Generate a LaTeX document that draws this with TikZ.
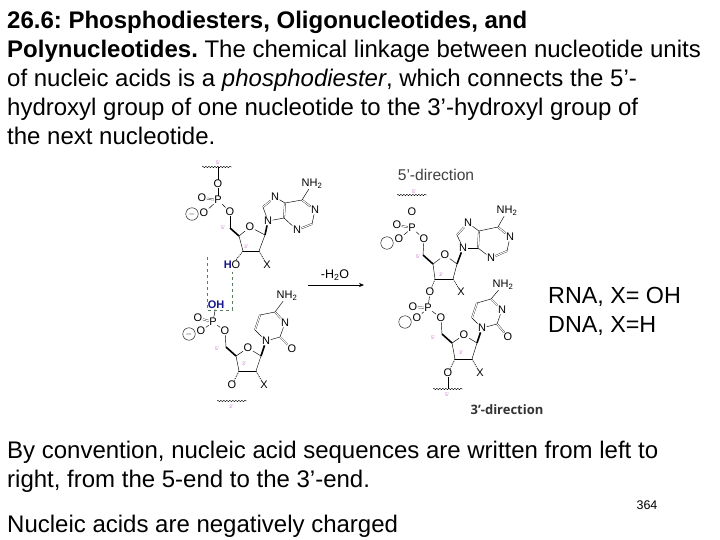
\documentclass[tikz,border=0pt]{standalone}
\usepackage{fontspec}
\setmainfont{Liberation Sans}
\newfontfamily\dirfont{Open Sans}
\usetikzlibrary{decorations.pathmorphing,arrows.meta}
\definecolor{tagpink}{RGB}{200,110,200}
\definecolor{ohblue}{RGB}{20,20,140}
\definecolor{boxgreen}{RGB}{90,125,100}
\frenchspacing
\begin{document}
\begin{tikzpicture}[x=1pt,y=-1pt,
		body/.style={anchor=north west,align=left,inner sep=0pt,font=\fontsize{24}{29}\selectfont},
		atom/.style={inner sep=0.4pt,font=\fontsize{11}{11}\selectfont},
		tag/.style={inner sep=0pt,text=tagpink,font=\fontsize{5}{5}\selectfont},
		ion/.style={circle,draw,thin,minimum size=12.5pt,inner sep=0pt,font=\fontsize{8}{8}\selectfont},
		bond/.style={draw,line width=0.45pt},
		dbl/.style={draw,double,line width=0.3pt,double distance=1.1pt},
		wedge/.style={draw,line width=1.6pt},
		hash/.style={draw,line width=0.7pt,dash pattern=on 1pt off 1pt},
		wave/.style={draw,line width=0.4pt,decorate,decoration={snake,amplitude=0.7pt,segment length=3pt}}
		]
	\useasboundingbox (0,0) rectangle (720,540);
	\node [body] (intro) at (7,11) {\textbf{26.6: Phosphodiesters, Oligonucleotides, and}\\
		\textbf{Polynucleotides.} The chemical linkage between nucleotide units\\
		of nucleic acids is a \textit{phosphodiester}, which connects the 5’-\\
		hydroxyl group of one nucleotide to the 3’-hydroxyl group of\\
		the next nucleotide.};
	\node [body] (rule) at (7,441) {By convention, nucleic acid sequences are written from left to\\
		right, from the 5-end to the 3’-end.};
	\node [body] (charge) at (7,515) {Nucleic acids are negatively charged};
	\node [body,font=\fontsize{23.3}{29}\selectfont] (kinds) at (548,287) {RNA, X= OH\\DNA, X=H};
	\node [inner sep=0pt,font=\fontsize{12.5}{12.5}\selectfont] (page) at (647,505) {364};
	\node [inner sep=0pt,font=\fontsize{15.6}{15.6}\selectfont,text=black!75] (fiveend) at (436,175) {5'-direction};
	\node [inner sep=0pt,font=\dirfont\bfseries\fontsize{13}{13}\selectfont,text=black!80] (threeend) at (507,410) {3’-direction};
	\node [inner sep=0pt,font=\fontsize{12.5}{12.5}\selectfont] (water) at (335,275) {-H\textsubscript{2}O};
	\coordinate (arrowa) at (308,285);
	\coordinate (arrowb) at (364,285);
	\draw [-{Stealth[length=5pt,width=4pt]},line width=0.6pt] (arrowa) -- (arrowb);
	% atoms
	\foreach \n/\x/\y/\t in {
		aOt/218/184/O,aP/218/200/P,aOe/202/198/O,aOm/204/213/O,aOs/230/212/O,aOr/250/227/O,
		aO3/232/265/{\textcolor{ohblue}{\textbf{H}}O},aX/267/265/X,aN9/268/221/N,aN7/275/197/N,aN3/297/230/N,aN1/315/210/N,aNH/312/184/NH\textsubscript{2},
		bOt/216/305/{\textcolor{ohblue}{\textbf{OH}}},bP/213/322/P,bOe/198/318/O,bOm/201/331/O,bOs/225/331/O,bOr/248/348/O,
		bO3/232/385/O,bX/264/385/X,bN1/266/341/N,bN3/285/323/N,bOc/292/349/O,bNH/287/296/NH\textsubscript{2},
		cOt/412/212/O,cP/412/228/P,cOe/397/225/O,cOm/399/239/O,cOs/424/239/O,cOr/445/255/O,
		cO3/430/292/O,cX/461/292/X,cN9/463/248/N,cN7/468/223/N,cN3/491/258/N,cN1/510/237/N,cNH/507/211/NH\textsubscript{2},
		dP/428/308/P,dOe/413/307/O,dOm/417/318/O,dOs/441/318/O,dOr/464/335/O,
		dO3/448/373/O,dX/480/373/X,dN1/482/328/N,dN3/502/310/N,dOc/508/337/O,dNH/503/285/NH\textsubscript{2}}
		\node [atom] (\n) at (\x,\y) {\t};
	% ring corners
	\foreach \n/\x/\y in {
		aC5/230/228,aC4/239/236,aC1/265/235,aC2/259/251,aC3/243/251,aC8/263/207,aCf/285/203,aCe/284/218,aCb/312/224,aCs/302/200,
		bC5/226/347,bC4/236/356,bC1/261/356,bC2/256/371,bC3/239/371,bC6/255/330,bCf/260/315,bCe/275/312,bCb/280/337,
		cC5/423/255,cC4/433/264,cC1/457/264,cC2/453/279,cC3/435/279,cC8/457/235,cCf/479/231,cCe/478/248,cCb/507/251,cCs/498/227,
		dC5/442/334,dC4/452/343,dC1/477/343,dC2/472/359,dC3/455/359,dC6/472/318,dCf/477/303,dCe/491/299,dCb/497/324,
		aWa/202/167,aWb/232/167,aWj/218/167,bWa/217/401,bWb/247/401,cWa/397/195,cWb/427/195,dWa/433/389,dWb/463/389,dWj/448/389,
		boxa/207/257,boxb/207/310,boxc/232/310,boxd/232/272}
		\coordinate (\n) at (\x,\y);
	% sugar and phosphate
	\foreach \m in {a,b,c,d} {
		\draw [dbl] (\m P) -- (\m Oe);
		\draw [bond] (\m P) -- (\m Om);
		\draw [bond] (\m P) -- (\m Os);
		\draw [bond] (\m Os) -- (\m C5);
		\draw [wedge] (\m C5) -- (\m C4);
		\draw [bond] (\m C4) -- (\m Or);
		\draw [bond] (\m Or) -- (\m C1);
		\draw [bond] (\m C1) -- (\m C2);
		\draw [line width=1pt] (\m C2) -- (\m C3);
		\draw [bond] (\m C3) -- (\m C4);
		\draw [hash] (\m C3) -- (\m O3);
		\draw [hash] (\m C2) -- (\m X);
	}
	% purine bases
	\foreach \m in {a,c} {
		\draw [wedge] (\m C1) -- (\m N9);
		\draw [bond] (\m N9) -- (\m C8);
		\draw [dbl] (\m C8) -- (\m N7);
		\draw [bond] (\m N7) -- (\m Cf);
		\draw [dbl] (\m Cf) -- (\m Ce);
		\draw [bond] (\m Ce) -- (\m N9);
		\draw [bond] (\m Ce) -- (\m N3);
		\draw [dbl] (\m N3) -- (\m Cb);
		\draw [bond] (\m Cb) -- (\m N1);
		\draw [dbl] (\m N1) -- (\m Cs);
		\draw [bond] (\m Cs) -- (\m Cf);
		\draw [bond] (\m Cs) -- (\m NH);
	}
	% pyrimidine bases
	\foreach \m in {b,d} {
		\draw [wedge] (\m C1) -- (\m N1);
		\draw [bond] (\m N1) -- (\m C6);
		\draw [dbl] (\m C6) -- (\m Cf);
		\draw [bond] (\m Cf) -- (\m Ce);
		\draw [dbl] (\m Ce) -- (\m N3);
		\draw [bond] (\m N3) -- (\m Cb);
		\draw [bond] (\m Cb) -- (\m N1);
		\draw [dbl] (\m Cb) -- (\m Oc);
		\draw [bond] (\m Ce) -- (\m NH);
	}
	\draw [bond] (aOt) -- (aP);
	\draw [bond] (aWj) -- (aOt);
	\draw [bond] (bOt) -- (bP);
	\draw [bond] (cO3) -- (dP);
	\draw [bond] (dO3) -- (dWj);
	\foreach \a/\b in {aWa/aWb,bWa/bWb,cWa/cWb,dWa/dWb}
		\draw [wave] (\a) -- (\b);
	\draw [boxgreen,dashed,line width=0.5pt] (boxa) -- (boxb) -- (boxc) -- (boxd);
	% charges
	\node [ion] (aIon) at (192,214) {$-$};
	\node [ion] (bIon) at (189,334) {$-$};
	\node [ion] (cIon) at (387,243) {};
	\node [ion] (dIon) at (405,322) {};
	% position tags
	\foreach \n/\x/\y/\t in {
		aTf/218/163/5',aTs/223/228/5',aTt/246/247/3',
		bTs/217/349/5',bTt/244/364/3',bTw/231/407/3',
		cTf/414/192/5',cTs/418/257/5',cTt/441/275/3',
		dTs/433/338/5',dTt/461/353/3',dTw/447/395/5'}
		\node [tag] (\n) at (\x,\y) {\t};
\end{tikzpicture}
\end{document}
